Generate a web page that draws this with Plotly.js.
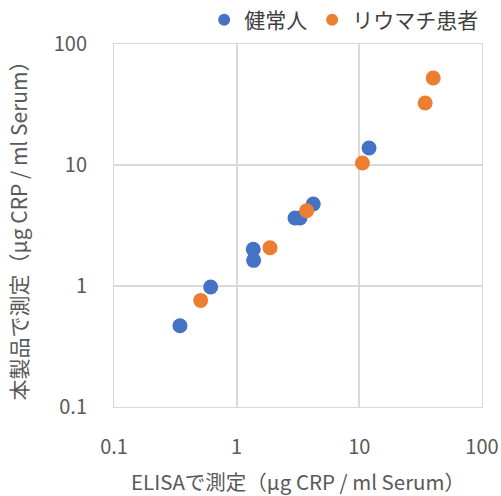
<!DOCTYPE html>
<html>
<head>
<meta charset="utf-8">
<script src="https://cdn.plot.ly/plotly-3.0.1.min.js"></script>
<style>body{margin:0;padding:0;background:#fff;}#chart{width:501px;height:496px;}</style>
</head>
<body>
<div id="chart"></div>
<script>
const healthyName = "健常人";
const healthyX = [0.345, 0.614, 1.365, 1.375, 2.99, 3.28, 4.21, 12.0];
const healthyY = [0.47, 0.98, 2.01, 1.63, 3.65, 3.65, 4.76, 13.8];
const raName = "リウマチ患者";
const raX = [0.509, 1.87, 3.72, 10.6, 34.4, 40.0];
const raY = [0.76, 2.07, 4.19, 10.4, 32.5, 52.4];
const tickVals = [0.1, 1, 10, 100];
const tickText = ["0.1", "1", "10", "100"];
const xTitle = "ELISAで測定（μg CRP / ml Serum）";
const yTitle = "本製品で測定（μg CRP / ml Serum）";

const FONT = '"Noto Sans CJK JP", "Noto Sans", sans-serif';
const traces = [
  {x: healthyX, y: healthyY, name: healthyName, type: 'scatter', mode: 'markers',
   marker: {color: '#4472C4', size: 15}},
  {x: raX, y: raY, name: raName, type: 'scatter', mode: 'markers',
   marker: {color: '#ED7D31', size: 15}}
];
const axisCommon = {
  type: 'log', tickvals: tickVals, ticktext: tickText,
  showgrid: true, gridcolor: '#D9D9D9', gridwidth: 2,
  showline: true, linecolor: '#D9D9D9', linewidth: 1, mirror: true,
  zeroline: false, ticks: '', automargin: false,
  tickfont: {family: FONT, size: 20, color: '#595959'}
};
const layout = {
  width: 501, height: 496,
  margin: {l: 114, r: 19, t: 44, b: 89, autoexpand: false},
  paper_bgcolor: '#fff', plot_bgcolor: '#fff',
  font: {family: FONT, color: '#595959'},
  showlegend: true,
  legend: {orientation: 'h', x: 0.245, xanchor: 'left', y: 1.066, yanchor: 'middle',
    font: {family: FONT, size: 21, color: '#404040'}, itemwidth: 30, itemsizing: 'constant',
    tracegroupgap: 0},
  xaxis: Object.assign({}, axisCommon, {range: [-1, 2], ticklabelstandoff: 22,
    title: {text: xTitle, font: {family: FONT, size: 20.5, color: '#595959'}, standoff: 16}}),
  yaxis: Object.assign({}, axisCommon, {range: [-1, 2], ticklabelstandoff: 22,
    title: {text: yTitle, font: {family: FONT, size: 21, color: '#595959'}, standoff: 20}})
};
Plotly.newPlot('chart', traces, layout, {displayModeBar: false});
</script>
</body>
</html>
